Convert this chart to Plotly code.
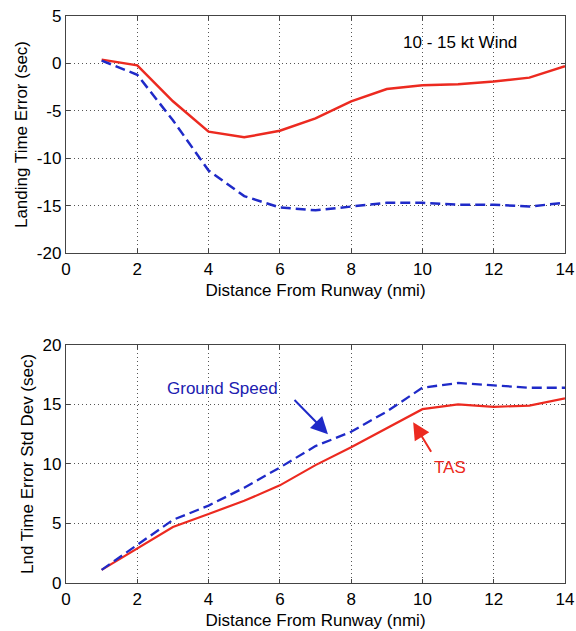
import plotly.graph_objects as go
from plotly.subplots import make_subplots

dist = [1, 2, 3, 4, 5, 6, 7, 8, 9, 10, 11, 12, 13, 14]
err_tas = [0.4, -0.2, -4.0, -7.2, -7.8, -7.1, -5.8, -4.0, -2.7, -2.3, -2.2, -1.9, -1.5, -0.3]
err_gs = [0.3, -1.2, -6.0, -11.3, -14.0, -15.2, -15.5, -15.1, -14.7, -14.7, -14.9, -14.9, -15.1, -14.7]
sd_tas = [1.1, 2.9, 4.7, 5.8, 6.9, 8.2, 9.9, 11.4, 13.0, 14.6, 15.0, 14.8, 14.9, 15.5]
sd_gs = [1.1, 3.2, 5.3, 6.5, 8.0, 9.7, 11.5, 12.7, 14.4, 16.4, 16.8, 16.6, 16.4, 16.4]
x_ticks = [0, 2, 4, 6, 8, 10, 12, 14]
y1_ticks = [5, 0, -5, -10, -15, -20]
y1_labels = ["5", "0", "-5", "-10", "-15", "-20"]
y2_ticks = [0, 5, 10, 15, 20]

RED = "#ec2a20"
BLUE = "#1f2ac8"
FONT = "Liberation Sans, Arial, Helvetica, sans-serif"
FS = 17

fig = make_subplots(rows=2, cols=1)
fig.add_trace(go.Scatter(x=dist, y=err_tas, mode="lines", line=dict(color=RED, width=2.5)), row=1, col=1)
fig.add_trace(go.Scatter(x=dist, y=err_gs, mode="lines", line=dict(color=BLUE, width=2.5, dash="10px,5px")), row=1, col=1)
fig.add_trace(go.Scatter(x=dist, y=sd_tas, mode="lines", line=dict(color=RED, width=2.2)), row=2, col=1)
fig.add_trace(go.Scatter(x=dist, y=sd_gs, mode="lines", line=dict(color=BLUE, width=2.3, dash="10px,5px")), row=2, col=1)

axis_common = dict(showline=True, linecolor="#444444", linewidth=1.3, mirror="ticks",
                   ticks="inside", ticklen=4, tickcolor="#444444",
                   showgrid=True, gridcolor="#555555", griddash="1px,3px", gridwidth=1,
                   zeroline=False, automargin=False,
                   tickfont=dict(size=FS, color="black", family=FONT))

fig.update_layout(
    width=576, height=631, showlegend=False,
    margin=dict(l=66, r=11, t=16, b=48),
    paper_bgcolor="white", plot_bgcolor="white",
    font=dict(family=FONT, size=FS, color="black"),
    xaxis=dict(domain=[0, 1], range=[0, 14], tickvals=x_ticks, ticklabelstandoff=0, **axis_common,
               title=dict(text="Distance From Runway (nmi)", font=dict(size=FS), standoff=6)),
    yaxis=dict(domain=[0.582, 1.0], range=[-20, 5], tickvals=y1_ticks, ticktext=y1_labels,
               ticklabelstandoff=0, **axis_common,
               title=dict(text="Landing Time Error (sec)", font=dict(size=FS), standoff=4)),
    xaxis2=dict(domain=[0, 1], range=[0, 14], tickvals=x_ticks, ticklabelstandoff=0, **axis_common,
                title=dict(text="Distance From Runway (nmi)", font=dict(size=FS), standoff=6)),
    yaxis2=dict(domain=[0, 0.42], range=[0, 20], tickvals=y2_ticks, ticklabelstandoff=0, **axis_common,
                title=dict(text="Lnd Time Error Std Dev (sec)", font=dict(size=FS), standoff=4)),
)

fig.add_annotation(x=11.05, y=2.2, xref="x", yref="y", text="10 - 15 kt Wind",
                   showarrow=False, font=dict(size=FS, color="black"))
fig.add_annotation(x=4.38, y=16.3, xref="x2", yref="y2", text="Ground Speed",
                   showarrow=False, font=dict(size=FS, color="#2020b0"))
fig.add_annotation(x=10.77, y=9.7, xref="x2", yref="y2", text="TAS",
                   showarrow=False, font=dict(size=FS, color=RED))
fig.add_annotation(x=7.35, y=12.5, xref="x2", yref="y2", ax=6.37, ay=15.5,
                   axref="x2", ayref="y2", text="", showarrow=True,
                   arrowhead=2, arrowsize=1.7, arrowwidth=2, arrowcolor=BLUE)
fig.add_annotation(x=9.74, y=13.5, xref="x2", yref="y2", ax=10.27, ay=10.9,
                   axref="x2", ayref="y2", text="", showarrow=True,
                   arrowhead=2, arrowsize=1.7, arrowwidth=2, arrowcolor=RED)

fig.write_html("out.html", config={"displayModeBar": False},
               post_script="document.body.style.margin='0';document.body.style.overflow='hidden';")
